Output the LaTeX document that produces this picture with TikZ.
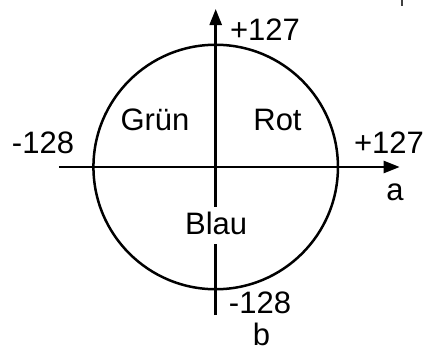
\documentclass[tikz,border=0pt]{standalone}
\usepackage{fontspec}
\setmainfont{Liberation Sans}
\usetikzlibrary{arrows.meta,positioning}

\begin{document}
\begin{tikzpicture}[x=0.5pt,y=0.5pt,
  lbl/.style={font=\fontsize{15.5}{18}\selectfont,anchor=base,inner sep=0pt},
  achse/.style={line width=1.25pt},
  arr/.style={-{Triangle[length=8pt,width=6pt]},line width=1.25pt}
]
  \useasboundingbox (-215.7,-182) rectangle (214.3,167);
  % Farbkreis
  \coordinate (o) at (0,0);
  \node[draw,circle,line width=1.25pt,minimum size=244.5pt*0.5,inner sep=0pt] (kreis) at (o) {};
  % Achsen
  \coordinate (aStart) at (-156.7,0);
  \coordinate (aEnd) at (184,0);
  \coordinate (bStart) at (0,-148);
  \coordinate (bEnd) at (0,158);
  \draw[arr] (aStart) -- (aEnd);
  \draw[arr] (bStart) -- (bEnd);
  % Beschriftungen
  \node[lbl] (bmax) at (49.3,127) {+127};
  \node[lbl] (amin) at (-172.7,13.7) {-128};
  \node[lbl] (amax) at (173.3,13.7) {+127};
  \node[lbl] (aname) at (179.3,-33) {a};
  \node[lbl] (bmin) at (44.3,-146.3) {-128};
  \node[lbl] (bname) at (45.8,-178) {b};
  \node[lbl] (gruen) at (-60.7,36.3) {Grün};
  \node[lbl] (rot) at (61.8,36.3) {Rot};
  \node[lbl,fill=white,inner ysep=2.5pt,text depth=2.5pt] (blau) at (0.5,-67.3) {Blau};
  % Strich oben rechts
  \coordinate (s1) at (186.7,167);
  \coordinate (s2) at (186.7,161);
  \draw[line width=1pt,black!75] (s1) -- (s2);
\end{tikzpicture}
\end{document}
